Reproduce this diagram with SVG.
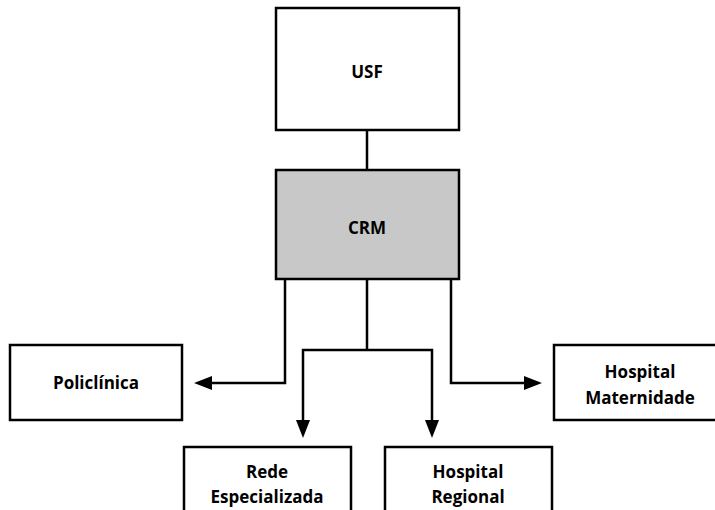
<svg xmlns="http://www.w3.org/2000/svg" width="715" height="510" viewBox="0 0 715 510">
<defs>
<style>
.box{fill:#fff;stroke:#000;stroke-width:2.5}
.gray{fill:#c8c8c8}
.t{font-family:"Open Sans","Noto Sans",sans-serif;font-weight:bold;font-size:17px;text-anchor:middle;fill:#000}
.c{fill:none;stroke:#000;stroke-width:2.5}
.ah{fill:#000}
</style>
</defs>
<rect width="715" height="510" fill="#fff"/>
<g id="connectors">
<line class="c" x1="367" y1="130" x2="367" y2="170"/>
<polyline class="c" points="285,279 285,383 212,383"/>
<path class="ah" d="M212,376 L194,383 L212,390 z"/>
<polyline class="c" points="367,279 367,350"/>
<polyline class="c" points="303,420 303,350 432,350 432,420"/>
<path class="ah" d="M296,420 L303,438 L310,420 z"/>
<path class="ah" d="M425,420 L432,438 L439,420 z"/>
<polyline class="c" points="451,279 451,383 524,383"/>
<path class="ah" d="M524,376 L542,383 L524,390 z"/>
</g>
<g id="usf">
<rect class="box" x="276" y="8" width="183" height="122"/>
<text class="t" x="367" y="78">USF</text>
</g>
<g id="crm">
<rect class="box gray" x="276" y="170" width="183" height="109"/>
<text class="t" x="367" y="234">CRM</text>
</g>
<g id="policlinica">
<rect class="box" x="10" y="345" width="172" height="75"/>
<text class="t" x="96" y="389">Policlínica</text>
</g>
<g id="rede">
<rect class="box" x="184" y="447" width="167" height="75"/>
<text class="t" x="267" y="478">Rede</text>
<text class="t" x="267" y="503">Especializada</text>
</g>
<g id="regional">
<rect class="box" x="385" y="447" width="167" height="75"/>
<text class="t" x="468" y="478">Hospital</text>
<text class="t" x="468" y="503">Regional</text>
</g>
<g id="maternidade">
<rect class="box" x="554" y="345" width="180" height="75"/>
<text class="t" x="640" y="378">Hospital</text>
<text class="t" x="640" y="404">Maternidade</text>
</g>
</svg>
